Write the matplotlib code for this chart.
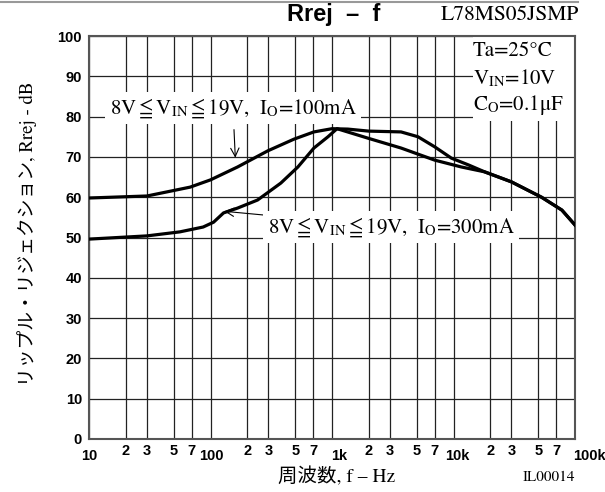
import matplotlib.pyplot as plt
from matplotlib.lines import Line2D
from matplotlib.patches import Rectangle

plt.rcParams['mathtext.fontset'] = 'stix'

# curve values (f in Hz, Rrej in dB)
freq_100 = [10, 30, 68, 100, 167, 296, 486, 710, 1000, 1350, 2000, 3700, 5100,
            7000, 9600, 13300, 18000, 30000, 53000, 78000, 100000]
rrej_100 = [59.8, 60.3, 62.5, 64.3, 67.5, 71.5, 74.4, 76.2, 77.0, 76.9, 76.4,
            76.2, 75.0, 72.5, 69.7, 68.0, 66.3, 63.8, 60.0, 56.8, 53.1]
freq_300 = [10, 30, 56, 87, 106, 128, 167, 244, 379, 524, 710, 927, 1100, 2000,
            3700, 7000, 11600, 18000, 30000, 53000, 78000, 100000]
rrej_300 = [49.6, 50.4, 51.4, 52.6, 53.8, 56.1, 57.3, 59.3, 63.5, 67.5, 72.2,
            75.0, 77.0, 74.6, 72.2, 69.2, 67.5, 66.3, 63.8, 60.0, 56.8, 53.1]

x_decades = [10, 100, 1000, 10000, 100000]
x_decade_labels = ['10', '100', '1k', '10k', '100k']
x_minor_mult = [2, 3, 5, 7]
y_ticks = list(range(0, 101, 10))

SANS = 'Liberation Sans'
SERIF = 'STIXGeneral'
TICKFONT = dict(fontfamily=SANS, fontsize=10.5, fontweight='bold')

fig = plt.figure(figsize=(6.05, 4.92), dpi=100)
ax = fig.add_axes([89/605, 53/492, 486/605, 403/492])

ax.plot(freq_100, rrej_100, color='black', lw=2.3, zorder=3)
ax.plot(freq_300, rrej_300, color='black', lw=2.3, zorder=3)

ax.set_xscale('log')
ax.set_xlim(10, 100000)
ax.set_ylim(0, 100)

minor = [m * d for d in x_decades[:-1] for m in x_minor_mult]
ax.set_xticks(x_decades)
ax.set_xticks(minor, minor=True)
ax.set_xticklabels([])
ax.set_xticklabels([], minor=True)
ax.set_yticks(y_ticks)
ax.set_yticklabels([str(v) for v in y_ticks], **TICKFONT)
ax.tick_params(which='both', length=0, pad=5)
ax.grid(True, which='both', color='#222222', lw=0.9)
ax.set_axisbelow(True)
for s in ax.spines.values():
    s.set_color('#555555')
    s.set_linewidth(1.5)

# x tick labels drawn by hand: decades sit lower than the 2 3 5 7 labels
trans = ax.get_xaxis_transform()
offsets = [0, 1, 7, 4, 14]
for d, lab, off in zip(x_decades, x_decade_labels, offsets):
    ax.annotate(lab, (d, 0), xycoords=trans, xytext=(off * 0.72, -17 * 0.72),
                textcoords='offset points', ha='center', va='center', **TICKFONT)
for d in x_decades[:-1]:
    for m in x_minor_mult:
        ax.annotate(str(m), (m * d, 0), xycoords=trans, xytext=(0, -12 * 0.72),
                    textcoords='offset points', ha='center', va='center',
                    **TICKFONT)

# condition box
ax.add_patch(Rectangle((0.79, 0.79), 0.21, 0.21, transform=ax.transAxes,
                       facecolor='white', edgecolor='none', zorder=2))
cond = ['Ta=25°C', r'V$_{\mathrm{IN}}$=10V', r'C$_{\mathrm{O}}$=0.1μF']
for i, c in enumerate(cond):
    fig.text(473/605, 1 - (51 + 27 * i)/492, c, ha='left', va='center',
             fontfamily=SERIF, fontsize=15)

lab100 = r'8V$\leqq$V$_{\mathrm{IN}}$$\leqq$19V,  I$_{\mathrm{O}}$=100mA'
lab300 = r'8V$\leqq$V$_{\mathrm{IN}}$$\leqq$19V,  I$_{\mathrm{O}}$=300mA'
box = dict(facecolor='white', edgecolor='none', pad=3)
ax.annotate(lab100, xy=(160, 69.8), xytext=(233/605, 1 - 108/492),
            textcoords='figure fraction', ha='center', va='center',
            fontfamily=SERIF, fontsize=15, bbox=box, zorder=4,
            arrowprops=dict(arrowstyle='->', color='black', lw=0.8,
                            shrinkA=4, shrinkB=0))
ax.annotate(lab300, xy=(130, 56.5), xytext=(391/605, 1 - 227/492),
            textcoords='figure fraction', ha='center', va='center',
            fontfamily=SERIF, fontsize=15, bbox=box, zorder=4,
            arrowprops=dict(arrowstyle='->', color='black', lw=0.8,
                            shrinkA=0, shrinkB=0))

fig.text(334/605, 1 - 15/492, 'Rrej  –  f', ha='center', va='center',
         fontfamily=SANS, fontweight='bold', fontsize=17)
fig.text(510/605, 1 - 15/492, 'L78MS05JSMP', ha='center', va='center',
         fontfamily=SERIF, fontsize=15.5)
fig.add_artist(Line2D([0, 578/605], [1 - 1.5/492] * 2, color='#999999', lw=1.5))

fig.text(337/605, 1 - 477/492, '周波数, f – Hz', ha='center', va='center',
         fontfamily=[SERIF, 'Noto Sans CJK JP'], fontsize=14)
fig.text(549/605, 1 - 477/492, 'IL00014', ha='center', va='center',
         fontfamily=SERIF, fontsize=11)
fig.text(27/605, 1 - 234/492, 'リップル・リジェクション, Rrej - dB', rotation=90,
         ha='center', va='center', fontfamily=[SERIF, 'Noto Sans CJK JP'],
         fontsize=13.5)

fig.savefig('out.png', dpi=100)
